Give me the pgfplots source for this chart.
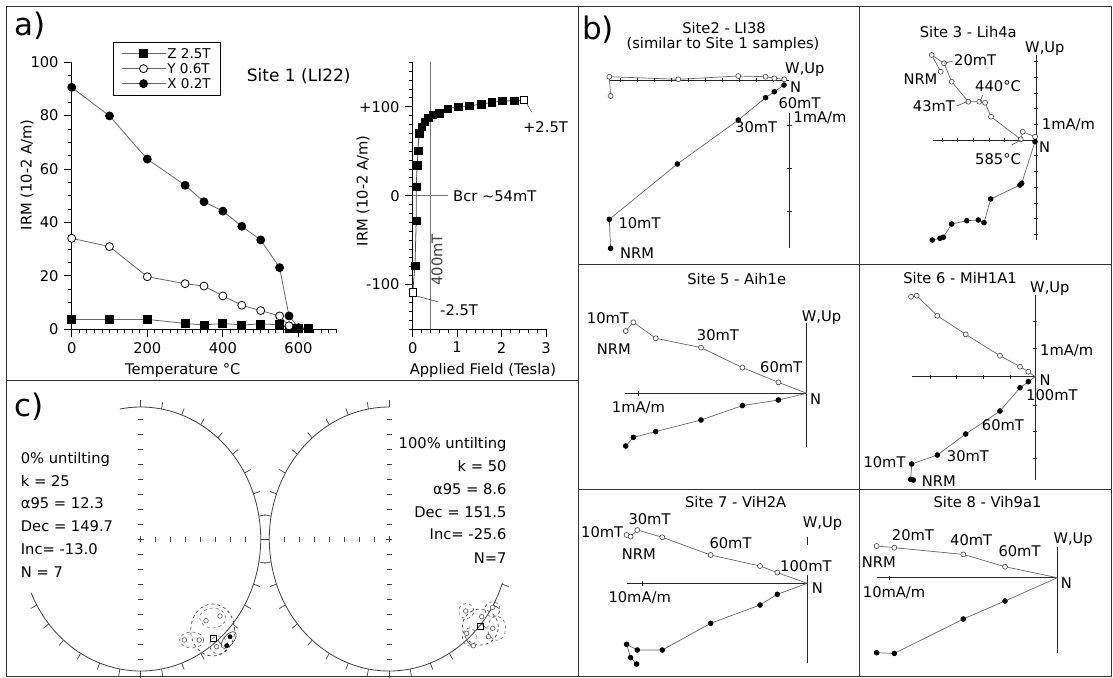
\documentclass[border=0pt]{standalone}
\usepackage{pgfplots}
\pgfplotsset{compat=1.18}
\usepackage{fontspec}
\setmainfont{DejaVu Sans}
\tikzset{
  t/.style={anchor=west, inner sep=0pt, text height=10.7pt, text depth=0pt},
  tc/.style={anchor=center, inner sep=0pt, text height=10.7pt, text depth=0pt},
  tr/.style={anchor=east, inner sep=0pt, text height=10.7pt, text depth=0pt},
  frame/.style={black!80, line width=1pt},
  zl/.style={black!60, line width=0.7pt},
  zo/.style={zl, mark=*, mark size=2.5pt, mark options={draw=black!75, fill=white, line width=0.6pt}},
  zf/.style={zl, mark=*, mark size=2.4pt, mark options={draw=black, fill=black}},
  zax/.style={black!85, line width=0.8pt},
  ztk/.style={black!85, line width=0.6pt, only marks, mark size=2.2pt},
  net/.style={black!75, line width=0.8pt},
  lead/.style={black!70, line width=0.6pt},
}
\pgfplotsset{
  zij/.style={x=1pt, y=1pt, hide axis, clip=false, anchor=origin},
}
\begin{document}%
\fontsize{14.7}{17.6}\selectfont%
\begin{tikzpicture}[x=1pt,y=-1pt]
% ---------------- frames
\draw[frame] (6,7) rectangle (1111,676);
\draw[frame] (578,7) -- (578,676);
\draw[frame] (6,380) -- (578,380);
\draw[frame] (578,264) -- (1111,264);
\draw[frame] (578,489) -- (1111,489);
\draw[frame] (859,7) -- (859,676);

% ---------------- panel a: thermal demagnetisation of IRM
\begin{axis}[
  at={(71.7pt,-329pt)}, anchor=south west, scale only axis,
  width=264.6pt, height=266.7pt,
  xmin=0, xmax=700, ymin=0, ymax=100,
  axis x line*=bottom, axis y line*=left,
  axis line style={-, black, line width=0.8pt},
  tick style={black, line width=0.8pt},
  tick align=outside, major tick length=8pt, minor tick length=4pt,
  xtick={0,200,400,600}, minor xtick={0,20,...,700},
  ytick={0,20,...,100}, minor ytick={0,5,...,100},
  xlabel={Temperature °C}, ylabel={IRM (10-2 A/m)},
  xlabel style={at={(axis description cs:0.42,-0.154)}, anchor=center, inner sep=0pt},
  ylabel style={at={(axis description cs:-0.169,0.578)}, anchor=center, inner sep=0pt},
  /pgf/number format/assume math mode=true,
  clip=false,
  legend cell align=left,
  legend style={at={(rel axis cs:0.155,1.077)}, anchor=north west, draw=black, line width=0.8pt,
     inner xsep=8pt, inner ysep=5pt, row sep=2pt,
     nodes={inner sep=1.5pt, text height=10pt, text depth=0pt},
     font=\fontsize{13.5}{14}\selectfont},
  legend image code/.code={\draw[mark repeat=2,mark phase=2,#1] plot coordinates {(0pt,0pt) (22pt,0pt) (44pt,0pt)};},
]
\addplot[black!60, line width=0.8pt, mark=square*, mark size=4pt, mark options={draw=black, fill=black}]
  coordinates {(0,3.6) (100,3.6) (200,3.6) (300,2.1) (350,1.5) (400,2.1) (450,1.5) (500,1.9) (550,1.6) (575,0.3) (600,0.2) (625,0.2)};
\addlegendentry{Z 2.5T}
\addplot[black!60, line width=0.8pt, mark=*, mark size=4pt, mark options={draw=black, fill=white, line width=0.8pt}]
  coordinates {(0,34.0) (100,30.9) (200,19.6) (300,17.0) (350,16.1) (400,12.4) (450,8.9) (500,6.9) (550,4.9) (575,1.2)};
\addlegendentry{Y 0.6T}
\addplot[black!60, line width=0.8pt, mark=*, mark size=4pt, mark options={draw=black, fill=black}]
  coordinates {(0,90.6) (100,79.9) (200,63.7) (300,53.9) (350,47.7) (400,44.2) (450,38.5) (500,33.4) (550,23.0) (575,4.9) (600,0.5) (625,0.3)};
\addlegendentry{X 0.2T}
\end{axis}

% ---------------- panel a: IRM acquisition / back field
\begin{axis}[
  at={(412.7pt,-329pt)}, anchor=south west, scale only axis,
  width=133.3pt, height=266.7pt,
  xmin=0, xmax=3, ymin=-150, ymax=150,
  axis x line*=bottom, axis y line*=left,
  axis line style={-, black, line width=0.8pt},
  tick style={black, line width=0.8pt},
  tick align=outside, major tick length=8pt, minor tick length=4pt,
  xtick={0,1,2,3}, minor xtick={0,0.2,...,3},
  ytick={-100,0,100}, yticklabels={-100,0,+100}, minor ytick={-150,-140,...,150},
  xlabel={Applied Field (Tesla)}, ylabel={IRM (10-2 A/m)},
  xlabel style={at={(axis description cs:0.527,-0.154)}, anchor=center, inner sep=0pt},
  ylabel style={at={(axis description cs:-0.373,0.518)}, anchor=center, inner sep=0pt},
  /pgf/number format/assume math mode=true,
  clip=false,
]
\addplot[black!55, line width=0.7pt] coordinates {(0.4,-150) (0.4,150)};
\addplot[black!55, line width=0.7pt] coordinates {(0,0) (0.8,0)};
\addplot[black!70, line width=0.8pt] coordinates {(0,-109) (0.05,-79) (0.08,-28) (0.08,10) (0.1,34.5) (0.12,50.7) (0.14,70) (0.2,77.7) (0.27,83.3) (0.35,87.8) (0.45,90.9) (0.6,92.8) (0.79,97.6) (1.02,100.2) (1.27,101) (1.54,102.9) (1.78,104.8) (2.02,106.6) (2.28,106.6) (2.5,107.8)};
\addplot[only marks, mark=square*, mark size=3.8pt, mark options={draw=black, fill=black}]
  coordinates {(0.05,-79) (0.08,-28) (0.08,10) (0.1,34.5) (0.12,50.7) (0.14,70) (0.2,77.7) (0.27,83.3) (0.35,87.8) (0.45,90.9) (0.6,92.8) (0.79,97.6) (1.02,100.2) (1.27,101) (1.54,102.9) (1.78,104.8) (2.02,106.6) (2.28,106.6)};
\addplot[only marks, mark=square*, mark size=3.8pt, mark options={draw=black, fill=white, line width=0.8pt}]
  coordinates {(0,-109) (2.5,107.8)};
\draw[lead] (axis cs:2.56,104) -- (axis cs:2.68,93.9);
\draw[lead] (axis cs:0.09,-113) -- (axis cs:0.57,-119.4);
\end{axis}
\node[rotate=90, inner sep=0pt, text height=10.7pt, text depth=0pt, black!75] at (437,260) {400mT};
\node[t] at (453,195.7) {Bcr \textasciitilde54mT};
\node[tc] at (545.5,126.7) {+2.5T};
\node[t] at (440,310) {-2.5T};
\node[t, font=\fontsize{17}{20}\selectfont, text height=12.4pt] at (246.7,75) {Site 1 (LI22)};
\node[anchor=base west, inner sep=0pt, font=\fontsize{31}{31}\selectfont] at (14,36) {a)};

% ---------------- panel b: Zijderveld diagrams
\node[anchor=base west, inner sep=0pt, font=\fontsize{31}{31}\selectfont] at (582,39.5) {b)};
% Site 2
\begin{axis}[zij, at={(789.3pt,-80pt)}, xmin=-190, xmax=10, ymin=-175, ymax=10]
\addplot[zax] coordinates {(-180,0) (0,0)};
\addplot[zax] coordinates {(0,-33.3) (0,-168.3)};
\addplot[ztk, mark=|] coordinates {(-169,0) (-152,0) (-135,0) (-118,0) (-101,0) (-84,0) (-67,0) (-50,0) (-33,0) (-16,0)};
\addplot[ztk, mark=-] coordinates {(0,-45) (0,-88.3) (0,-131.7)};
\addplot[zo] coordinates {(-178.7,-16) (-180,3.3) (-111,0.7) (-51,4) (-23.7,3.3) (-15,1.7) (-5,0.7)};
\addplot[zf] coordinates {(-178.7,-168.3) (-180,-139.3) (-112,-84) (-51,-40) (-23.7,-17.7) (-15,-11.7) (-5.3,-5)};
\end{axis}
\node[tc] at (724,28) {Site2 - LI38};
\node[tc] at (723,43) {(similar to Site 1 samples)};
\node[t] at (785,68) {W,Up};
\node[t] at (790,87) {N};
\node[t] at (778.3,103) {60mT};
\node[t] at (735,127) {30mT};
\node[t] at (793.3,117) {1mA/m};
\node[t] at (618.3,223) {10mT};
\node[t] at (620,253) {NRM};

% Site 3
\begin{axis}[zij, at={(1036pt,-140pt)}, xmin=-115, xmax=10, ymin=-110, ymax=95]
\addplot[zax] coordinates {(-102.7,0) (0,0)};
\addplot[zax] coordinates {(0,85) (0,-100)};
\addplot[ztk, mark=|] coordinates {(-15.7,0) (-31.4,0) (-47.1,0) (-62.8,0) (-78.5,0) (-94.2,0)};
\addplot[ztk, mark=-] coordinates {(0,15.7) (0,31.4) (0,47.1) (0,62.8) (0,78.5) (0,-15.7) (0,-31.4) (0,-47.1) (0,-62.8) (0,-78.5) (0,-94.2)};
\addplot[zo] coordinates {(-95.3,68.3) (-104.3,85) (-92,76.7) (-84.3,58.3) (-67.7,38.3) (-56.7,38.3) (-51,37.3) (-45,23.3) (-15.3,0.7) (-13.3,8.3) (-1,3.3)};
\addplot[zf] coordinates {(-103.7,-100) (-96,-98.3) (-92.7,-97.3) (-84.3,-84) (-69.3,-80.7) (-57.7,-80) (-52,-82.7) (-45.3,-59) (-16,-45) (-14.3,-43.3) (-1,-1.7)};
\end{axis}
\node[tc] at (968.3,31.7) {Site 3 - Lih4a};
\node[t] at (1025,46.7) {W,Up};
\node[t] at (954,60) {20mT};
\node[t] at (903.3,79.3) {NRM};
\node[t] at (975,86) {440°C};
\node[t] at (912.7,106) {43mT};
\node[t] at (1041.7,124) {1mA/m};
\node[t] at (1039,146.7) {N};
\node[t] at (975,159) {585°C};
\draw[lead] (944,63.3) -- (953,61);
\draw[lead] (982.7,95) -- (980,101.7);
\draw[lead] (956.7,106) -- (966.7,101.7);
\draw[lead] (1011.7,145) -- (1020.7,140);

% Site 5
\begin{axis}[zij, at={(806.7pt,-393.3pt)}, xmin=-190, xmax=10, ymin=-60, ymax=80]
\addplot[zax] coordinates {(-181.7,0) (0,0)};
\addplot[zax] coordinates {(0,70) (0,-53.3)};
\addplot[ztk, mark=|] coordinates {(-168.3,0)};
\addplot[zo, mark indices={1,2,3,4,5,6}] coordinates {(-181,62.3) (-173.3,71) (-151,55) (-105.7,45.7) (-64.3,25.7) (-28.3,11) (0,0)};
\addplot[zf, mark indices={1,2,3,4,5,6}] coordinates {(-181,-52.7) (-173.3,-44) (-151,-38.3) (-105.7,-26.7) (-64.3,-12.3) (-28.3,-6.7) (0,0)};
\end{axis}
\node[tc] at (736.7,279) {Site 5 - Aih1e};
\node[t] at (801.7,316) {W,Up};
\node[t] at (586.7,318.3) {10mT};
\node[t] at (596.7,349.3) {NRM};
\node[t] at (696.7,335) {30mT};
\node[t] at (760,366.7) {60mT};
\node[t] at (810,399) {N};
\node[t] at (611.7,406.7) {1mA/m};

% Site 6
\begin{axis}[zij, at={(1035pt,-376.7pt)}, xmin=-135, xmax=10, ymin=-110, ymax=90]
\addplot[zax] coordinates {(-123.3,0) (0,0)};
\addplot[zax] coordinates {(0,81.7) (0,-103.3)};
\addplot[ztk, mark=|] coordinates {(-105,0) (-78.3,0) (-51.7,0) (-25,0)};
\addplot[ztk, mark=-] coordinates {(0,55) (0,28.3) (0,-28.3) (0,-55) (0,-81.7)};
\addplot[zo, mark indices={1,2,3,4,5,6,7}] coordinates {(-124,80) (-118.3,81) (-97.7,61) (-69.3,42.3) (-35,21) (-15,10) (-6.7,5) (0,0)};
\addplot[zf, mark indices={1,2,3,4,5,6,7,8}] coordinates {(-121.7,-103.3) (-124.3,-102.7) (-123.3,-87.3) (-97.7,-78.3) (-69.3,-57.3) (-35,-34.3) (-15,-11) (-6.7,-5) (0,0)};
\end{axis}
\node[tc] at (960,278.3) {Site 6 - MiH1A1};
\node[t] at (1030,287.3) {W,Up};
\node[t] at (1040,350) {1mA/m};
\node[t] at (1039.3,380) {N};
\node[t] at (1026,395) {100mT};
\node[t] at (981.7,425) {60mT};
\node[t] at (946.7,456) {30mT};
\node[t] at (863.3,462) {10mT};
\node[t] at (921.7,480.7) {NRM};

% Site 7
\begin{axis}[zij, at={(807.3pt,-583.3pt)}, xmin=-190, xmax=10, ymin=-90, ymax=60]
\addplot[zax] coordinates {(-180.7,0) (0,0)};
\addplot[zax] coordinates {(0,46) (0,38.3)};
\addplot[zax] coordinates {(0,8.3) (0,-80)};
\addplot[ztk, mark=|] coordinates {(-164.7,0)};
\addplot[zo, mark indices={1,2,3,4,5,6,7}] coordinates {(-180.7,48.3) (-176.7,46.7) (-170,53.3) (-145,46) (-96.7,28.3) (-47.3,17.3) (-30,10.7) (0,0)};
\addplot[zf, mark indices={2,3,4,5,6,7,8,9}] coordinates {(0,0) (-30,-11) (-47.3,-21.7) (-96.7,-40) (-145,-66.7) (-170,-66.7) (-180.7,-61) (-176.7,-74.3) (-170.7,-80.7)};
\end{axis}
\node[tc] at (735.7,501.7) {Site 7 - ViH2A};
\node[t] at (802.7,522.3) {W,Up};
\node[t] at (628.3,519.3) {30mT};
\node[t] at (581,531.7) {10mT};
\node[t] at (621.7,554) {NRM};
\node[t] at (709.3,543.3) {60mT};
\node[t] at (780,566) {100mT};
\node[t] at (811.7,588.3) {N};
\node[t] at (608.3,597.3) {10mA/m};

% Site 8
\begin{axis}[zij, at={(1057.3pt,-577.7pt)}, xmin=-190, xmax=10, ymin=-85, ymax=40]
\addplot[zax] coordinates {(-180.7,0) (0,0)};
\addplot[zax] coordinates {(0,30.3) (0,-75.7)};
\addplot[ztk, mark=|] coordinates {(-168,0)};
\addplot[zo, mark indices={1,2,3,4}] coordinates {(-180.7,31.7) (-163,30) (-94,23.3) (-52.3,11) (0,0)};
\addplot[zf, mark indices={1,2,3,4}] coordinates {(-180.7,-75) (-163,-75.7) (-94,-41.3) (-52.3,-23.3) (0,0)};
\end{axis}
\node[tc] at (987.5,501.7) {Site 8 - Vih9a1};
\node[t] at (1053.3,538.3) {W,Up};
\node[t] at (891.7,535) {20mT};
\node[t] at (950,540) {40mT};
\node[t] at (998.3,550.7) {60mT};
\node[t] at (861.7,561.7) {NRM};
\node[t] at (1060.7,583.3) {N};
\node[t] at (862.7,592.3) {10mA/m};

% ---------------- panel c: stereonets
\node[anchor=base west, inner sep=0pt, font=\fontsize{31}{31}\selectfont] at (14,416.5) {c)};
\begin{scope}[shift={(140.7,539)}, y=1pt]
  \draw[net] (-156:120 and 132) arc[start angle=-156, end angle=100, x radius=120, y radius=132];
  \foreach \a in {-150,-140,...,90} \draw[net, line width=0.7pt] ({120*cos(\a)},{132*sin(\a)}) -- ({127*cos(\a)},{139*sin(\a)});
  \foreach \k in {1,...,7} \draw[net, line width=0.6pt] (15*\k,-2.5) -- (15*\k,2.5);
  \foreach \k in {-8,...,-1,1,2,...,8} \draw[net, line width=0.6pt] (-2.5,15*\k) -- (2.5,15*\k);
  \draw[net, line width=0.6pt] (-3,0) -- (3,0) (0,-3) -- (0,3);
\end{scope}
\begin{scope}[shift={(389.3,539)}, y=1pt]
  \draw[net] (90:120 and 132) arc[start angle=90, end angle=340.6, x radius=120, y radius=132];
  \foreach \a in {90,100,...,340} \draw[net, line width=0.7pt] ({120*cos(\a)},{132*sin(\a)}) -- ({127*cos(\a)},{139*sin(\a)});
  \foreach \k in {1,...,7} \draw[net, line width=0.6pt] (-15*\k,-2.5) -- (-15*\k,2.5);
  \foreach \k in {-8,...,-1,1,2,...,8} \draw[net, line width=0.6pt] (-2.5,15*\k) -- (2.5,15*\k);
  \draw[net, line width=0.6pt] (-3,0) -- (3,0) (0,-3) -- (0,3);
\end{scope}
% left net data (0% untilting)
\begin{axis}[zij, at={(140.7pt,-539pt)}, xmin=-130, xmax=130, ymin=-140, ymax=140]
\draw[black!75, dashed, line width=0.7pt] (axis cs:72,-91) ellipse [x radius=22pt, y radius=26pt];
\draw[black!60, dashed, line width=0.6pt] (axis cs:72,-79) ellipse [x radius=13pt, y radius=10pt];
\draw[black!60, dashed, line width=0.6pt] (axis cs:51,-101) ellipse [x radius=12pt, y radius=8pt];
\draw[black!60, dashed, line width=0.6pt] (axis cs:78,-106) circle [radius=9pt];
\draw[black!80, line width=0.6pt, rotate around={50:(axis cs:88,-101)}] (axis cs:88,-101) ellipse [x radius=10pt, y radius=5pt];
\addplot[only marks, mark=*, mark size=2.3pt, mark options={draw=black!65, fill=white, line width=0.6pt}]
  coordinates {(43.6,-101) (58.6,-101) (65.3,-81.7) (79.3,-77) (76,-107.7)};
\addplot[only marks, mark=*, mark size=2.2pt, mark options={draw=black, fill=black}]
  coordinates {(89.3,-97.7) (86,-106.7)};
\addplot[only marks, mark=square, mark size=3pt, mark options={draw=black, line width=0.8pt}]
  coordinates {(72.6,-99.3)};
\end{axis}
% right net data (100% untilting)
\begin{axis}[zij, at={(389.3pt,-539pt)}, xmin=-130, xmax=130, ymin=-140, ymax=140]
\draw[black!75, dashed, line width=0.7pt] (axis cs:91,-88) ellipse [x radius=18pt, y radius=18pt];
\draw[black!60, dashed, line width=0.6pt] (axis cs:77,-72) circle [radius=7.5pt];
\draw[black!60, dashed, line width=0.6pt] (axis cs:103.2,-70.2) circle [radius=7.5pt];
\draw[black!60, dashed, line width=0.6pt] (axis cs:107.4,-89.3) ellipse [x radius=9pt, y radius=12pt];
\draw[black!60, dashed, line width=0.6pt] (axis cs:80,-98) ellipse [x radius=7pt, y radius=9pt];
\addplot[only marks, mark=*, mark size=2.3pt, mark options={draw=black!65, fill=white, line width=0.6pt}]
  coordinates {(76.4,-72) (103.4,-68.3) (92.4,-77.7) (103.4,-89.3) (77.4,-94.3) (84,-106.7) (99,-97.7)};
\addplot[only marks, mark=square, mark size=3pt, mark options={draw=black, line width=0.8pt}]
  coordinates {(90.7,-87)};
\end{axis}
% statistics text
\node[t] at (20.7,457.7) {0\% untilting};
\node[t] at (20.7,481) {k = 25};
\node[t] at (20.7,503.3) {α95 = 12.3};
\node[t] at (20.7,526) {Dec = 149.7};
\node[t] at (20.7,549) {Inc= -13.0};
\node[t] at (20.7,571.7) {N = 7};
\node[tr] at (506.7,442.7) {100\% untilting};
\node[tr] at (506.7,466) {k = 50};
\node[tr] at (506.7,489) {α95 = 8.6};
\node[tr] at (506.7,511.7) {Dec = 151.5};
\node[tr] at (506.7,534) {Inc= -25.6};
\node[tr] at (506.7,557.7) {N=7};

\pgfresetboundingbox
\useasboundingbox (0,0) rectangle (1113,677);
\end{tikzpicture}
\end{document}
